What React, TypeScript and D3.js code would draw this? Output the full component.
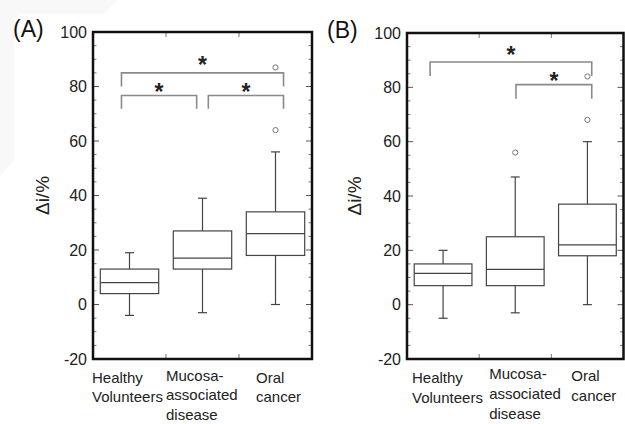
import React from "react";
import * as d3 from "d3";

// ---------- data ----------
const categories: string[][] = [
  ["Healthy", "Volunteers"],
  ["Mucosa-", "associated", "disease"],
  ["Oral", "cancer"],
];
const yTickValues = [-20, 0, 20, 40, 60, 80, 100];

// panel A box stats [min, q1, median, q3, max]
const boxesA = [
  [-4, 4, 8, 13, 19],
  [-3, 13, 17, 27, 39],
  [0, 18, 26, 34, 56],
];
const outliersA = [[], [], [64, 87]];
// brackets: [fromIndex, toIndex, barY, legY, starY]
const bracketsA = [
  [-0.11, 2.11, 85, 80, 89.7],
  [-0.11, 0.92, 76.7, 71.8, 80],
  [1.08, 2.11, 76.7, 71.8, 80],
];

// panel B
const boxesB = [
  [-5, 7, 11.5, 15, 20],
  [-3, 7, 13, 25, 47],
  [0, 18, 22, 37, 60],
];
const outliersB = [[], [56], [68, 84]];
const bracketsB = [
  [-0.18, 2.06, 89.3, 84.2, 93.8],
  [1.01, 2.06, 81, 75.8, 84.2],
];

// ---------- layout ----------
const FONT = "'Liberation Sans', Arial, Helvetica, sans-serif";

type PanelProps = {
  letter: string;
  x0: number;
  x1: number;
  y0: number;
  y1: number;
  boxes: number[][];
  outliers: number[][];
  brackets: number[][];
  labelDx: number[];
  labelBase: number[];
  ylabelX: number;
};

function Panel(p: PanelProps) {
  const y = d3.scaleLinear().domain([-20, 100]).range([p.y1, p.y0]);
  const xb = d3
    .scaleBand<number>()
    .domain(d3.range(categories.length))
    .range([p.x0, p.x1])
    .paddingInner(0)
    .paddingOuter(0);
  const bw = xb.bandwidth();
  const cx = (i: number) => (xb(i) as number) + bw / 2;
  const xIdx = d3
    .scaleLinear()
    .domain([0, 1])
    .range([cx(0), cx(1)]);
  const boxW = bw * 0.8;
  const capW = 9;
  const boxStroke = "#444";
  const grey = "#8a8a8a";
  const minorTicks = d3.range(-20, 101, 5).filter((v) => v % 20 !== 0);
  const major = 6;
  const minor = 3.5;

  return (
    <g>
      <text x={p.x0 - 80} y={p.y0 + 5} fontFamily={FONT} fontSize={23} fill="#111">
        {p.letter}
      </text>
      {yTickValues.map((v) => (
        <text
          key={"yl" + v}
          x={p.x0 - 6}
          y={y(v) + 5.5}
          textAnchor="end"
          fontFamily={FONT}
          fontSize={16}
          fill="#222"
        >
          {v}
        </text>
      ))}
      <text
        transform={`translate(${p.ylabelX},${(p.y0 + p.y1) / 2}) rotate(-90)`}
        textAnchor="middle"
        fontFamily={FONT}
        fontSize={19}
        fill="#222"
      >
        Δi/%
      </text>
      {yTickValues.map((v) => (
        <g key={"mt" + v}>
          <line x1={p.x0} x2={p.x0 + major} y1={y(v)} y2={y(v)} stroke="#555" strokeWidth={1} />
          <line x1={p.x1} x2={p.x1 - major} y1={y(v)} y2={y(v)} stroke="#555" strokeWidth={1} />
        </g>
      ))}
      {minorTicks.map((v) => (
        <g key={"nt" + v}>
          <line x1={p.x0} x2={p.x0 + minor} y1={y(v)} y2={y(v)} stroke="#777" strokeWidth={1} />
          <line x1={p.x1} x2={p.x1 - minor} y1={y(v)} y2={y(v)} stroke="#777" strokeWidth={1} />
        </g>
      ))}
      {d3.range(1, categories.length).map((i) => (
        <g key={"xt" + i}>
          <line x1={xb(i)} x2={xb(i)} y1={p.y0} y2={p.y0 + 5} stroke="#777" strokeWidth={1} />
          <line x1={xb(i)} x2={xb(i)} y1={p.y1} y2={p.y1 - 5} stroke="#777" strokeWidth={1} />
        </g>
      ))}
      {p.boxes.map((b, i) => {
        const c = cx(i);
        const [mn, q1, md, q3, mx] = b;
        return (
          <g key={"b" + i} stroke={boxStroke} strokeWidth={1.2} fill="none">
            <line x1={c} x2={c} y1={y(q3)} y2={y(mx)} />
            <line x1={c} x2={c} y1={y(q1)} y2={y(mn)} />
            <line x1={c - capW / 2} x2={c + capW / 2} y1={y(mx)} y2={y(mx)} />
            <line x1={c - capW / 2} x2={c + capW / 2} y1={y(mn)} y2={y(mn)} />
            <rect x={c - boxW / 2} y={y(q3)} width={boxW} height={y(q1) - y(q3)} fill="white" />
            <line x1={c - boxW / 2} x2={c + boxW / 2} y1={y(md)} y2={y(md)} />
          </g>
        );
      })}
      {p.outliers.map((os, i) =>
        os.map((v, j) => (
          <circle key={"o" + i + "_" + j} cx={cx(i)} cy={y(v)} r={2.6} fill="white" stroke="#777" strokeWidth={1} />
        ))
      )}
      {p.brackets.map((br, k) => {
        const [f, t, by, ly, sy] = br;
        const xa = xIdx(f);
        const xc = xIdx(t);
        return (
          <g key={"br" + k}>
            <path
              d={`M${xa},${y(ly)}V${y(by)}H${xc}V${y(ly)}`}
              fill="none"
              stroke={grey}
              strokeWidth={1.6}
            />
            <text
              x={(xa + xc) / 2}
              y={y(sy) + 13}
              textAnchor="middle"
              fontFamily={FONT}
              fontSize={23}
              fontWeight="bold"
              fill="#222"
            >
              *
            </text>
          </g>
        );
      })}
      <rect
        x={p.x0}
        y={p.y0}
        width={p.x1 - p.x0}
        height={p.y1 - p.y0}
        fill="none"
        stroke="#111"
        strokeWidth={2.5}
      />
      {categories.map((lines, i) => (
        <text
          key={"cl" + i}
          x={(xb(i) as number) + p.labelDx[i]}
          y={p.labelBase[i]}
          fontFamily={FONT}
          fontSize={15}
          fill="#222"
        >
          {lines.map((l, j) => (
            <tspan key={j} x={(xb(i) as number) + p.labelDx[i]} dy={j === 0 ? 0 : 19.8}>
              {l}
            </tspan>
          ))}
        </text>
      ))}
    </g>
  );
}

export default function App() {
  return (
    <svg
      width={625}
      height={424}
      style={{ position: "absolute", left: 0, top: 0, background: "white" }}
    >
      <rect x={0} y={0} width={625} height={424} fill="white" />
      <path d="M0,0H118L104,14H22Q14,14 14,22V160L0,176Z" fill="#f8f8f8" />
      <Panel
        letter="(A)"
        x0={93}
        x1={312}
        y0={32}
        y1={359}
        boxes={boxesA}
        outliers={outliersA}
        brackets={bracketsA}
        labelDx={[-1, 0, 17]}
        labelBase={[382.5, 380.5, 382.5]}
        ylabelX={49}
      />
      <Panel
        letter="(B)"
        x0={407}
        x1={623.5}
        y0={33}
        y1={359}
        boxes={boxesB}
        outliers={outliersB}
        brackets={bracketsB}
        labelDx={[5, 10, 20]}
        labelBase={[383, 379, 381]}
        ylabelX={361}
      />
    </svg>
  );
}
